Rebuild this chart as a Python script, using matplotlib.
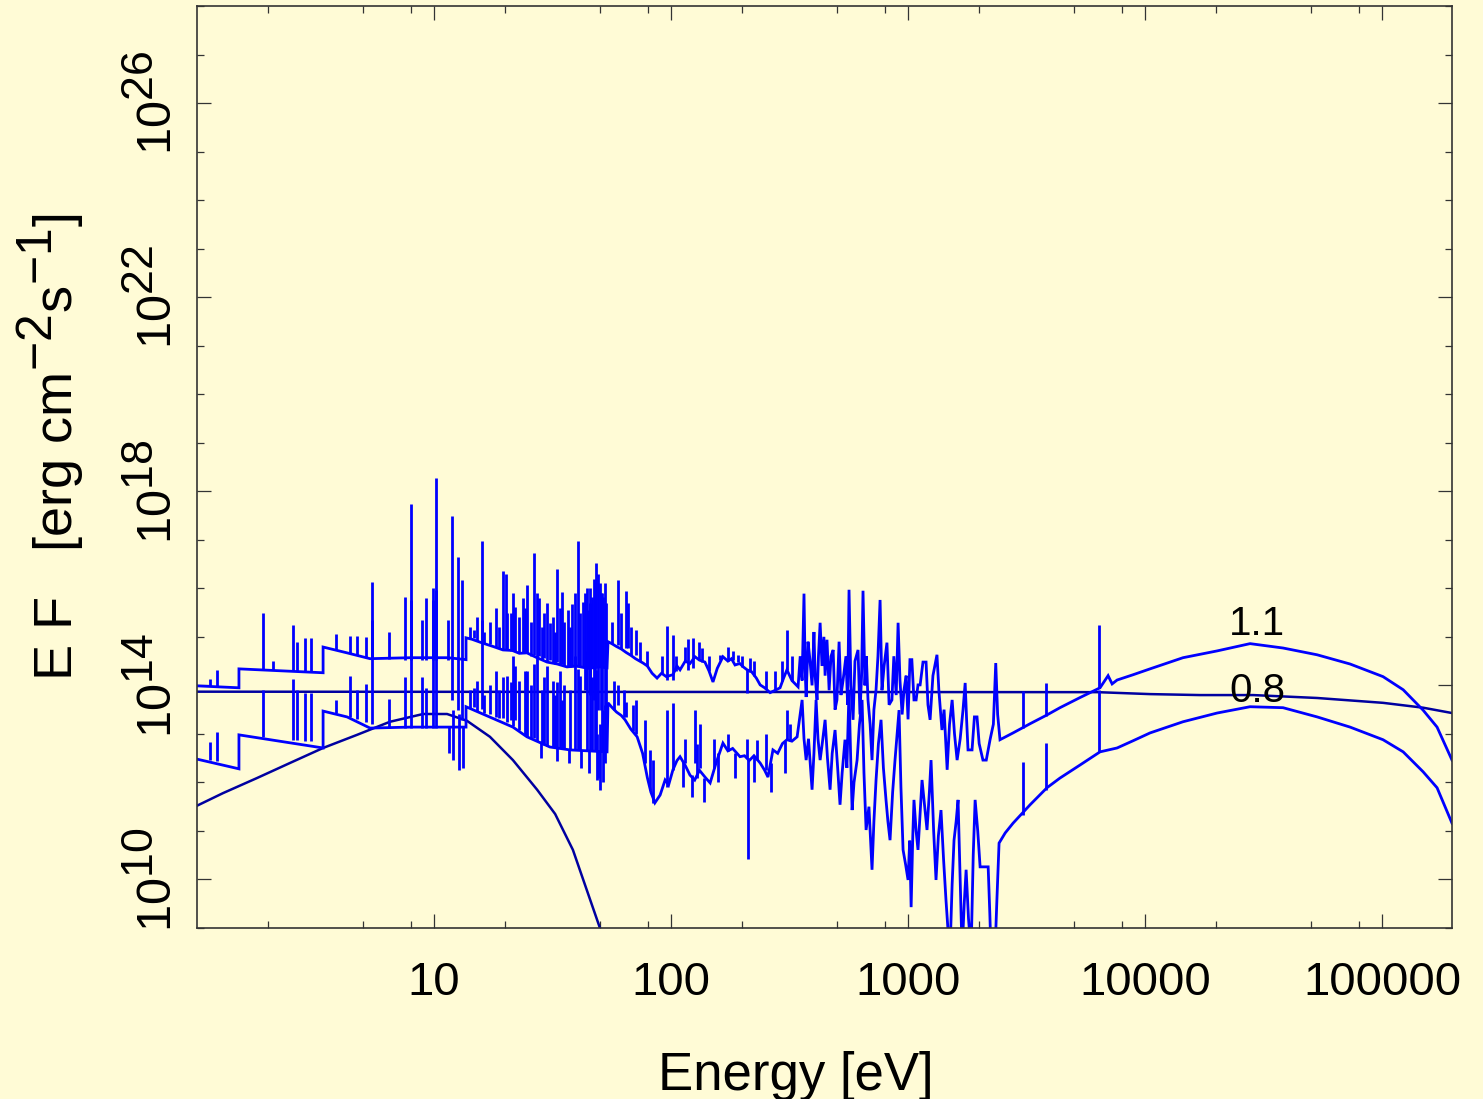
import numpy as np
import matplotlib
matplotlib.use('Agg')
import matplotlib.pyplot as plt
from matplotlib.ticker import FixedLocator, FixedFormatter, NullFormatter
import matplotlib._mathtext as _mt
_mt.SHRINK_FACTOR = 0.92

# ---------------- data (log10 energy [eV], log10 E*F) ----------------
# upper spectrum (label 1.1)
up_logE = [0.000, 0.177, 0.177, 0.532, 0.532, 0.633, 0.730, 0.899, 1.059, 1.135, 1.135, 1.16, 1.20, 1.25, 1.291, 1.33, 1.36,
           1.392, 1.43, 1.477, 1.52, 1.561, 1.60, 1.65, 1.70, 1.730,
           1.734, 1.75, 1.77, 1.79, 1.81, 1.83, 1.85, 1.882, 1.90, 1.92, 1.941, 1.96, 1.98, 2.008, 2.025, 2.038, 2.06,
           2.08, 2.101, 2.12, 2.143, 2.16, 2.177, 2.195, 2.219, 2.24, 2.255, 2.270, 2.29, 2.305, 2.321, 2.34, 2.36,
           2.376, 2.395, 2.418, 2.44, 2.460, 2.475, 2.489, 2.51,
           2.536, 2.545, 2.553, 2.561, 2.566, 2.570, 2.578, 2.586, 2.595, 2.603, 2.608, 2.616, 2.622, 2.629, 2.637,
           2.645, 2.650, 2.658, 2.667, 2.675, 2.684, 2.692, 2.700, 2.709, 2.717, 2.726, 2.738, 2.745, 2.751, 2.759,
           2.768, 2.776, 2.789, 2.797, 2.804, 2.810, 2.818, 2.824, 2.831, 2.840, 2.848, 2.856, 2.865, 2.873, 2.882,
           2.890, 2.899, 2.911, 2.920, 2.932, 2.940, 2.950, 2.958, 2.966, 2.975, 2.983, 2.992, 3.000, 3.008, 3.016,
           3.025, 3.034, 3.042, 3.051, 3.063, 3.076, 3.084, 3.093, 3.105, 3.122, 3.130, 3.143, 3.152, 3.165, 3.175,
           3.186, 3.196, 3.207, 3.220, 3.232, 3.241, 3.247, 3.253, 3.270, 3.280, 3.291, 3.300, 3.316, 3.330, 3.346,
           3.360, 3.370, 3.378, 3.388,
           3.443, 3.515, 3.586, 3.641, 3.726, 3.810, 3.844, 3.861, 3.882, 3.950, 4.021, 4.160, 4.304, 4.443, 4.582,
           4.726, 4.865, 5.004, 5.089, 5.173, 5.232, 5.295]
up_logF = [13.99, 13.95, 14.34, 14.26, 14.79, 14.67, 14.55, 14.57, 14.57, 14.53, 14.98, 14.95, 14.88, 14.80, 14.73, 14.72, 14.66,
           14.67, 14.58, 14.48, 14.44, 14.38, 14.40, 14.35, 14.38, 14.36,
           14.90, 14.86, 14.80, 14.75, 14.68, 14.62, 14.55, 14.46, 14.40, 14.25, 14.15, 14.25, 14.18, 14.22, 14.40, 14.32, 14.50,
           14.45, 14.59, 14.52, 14.48, 14.30, 14.07, 14.35, 14.59, 14.50, 14.55, 14.42, 14.45, 14.38, 14.32, 14.28, 14.15,
           14.01, 13.95, 13.85, 13.90, 13.95, 14.15, 14.32, 14.10,
           13.97, 14.60, 14.10, 15.89, 14.30, 13.76, 14.90, 14.53, 14.00, 15.10, 14.20, 13.70, 14.60, 15.29, 14.40,
           15.00, 14.20, 14.94, 13.90, 14.60, 14.73, 13.50, 13.70, 14.90, 13.80, 14.11, 14.60, 13.60, 15.97, 14.00,
           13.29, 14.50, 14.73, 13.40, 14.20, 15.95, 14.00, 14.60, 13.70, 13.20, 12.46, 13.50, 13.91, 14.60, 15.76,
           13.90, 14.40, 14.88, 13.60, 13.70, 14.60, 13.80, 15.29, 14.10, 13.40, 13.91, 14.20, 13.30, 14.53, 14.53,
           13.70, 13.70, 14.01, 14.01, 14.48, 14.48, 13.60, 13.29, 14.20, 14.63, 13.90, 13.08, 13.50, 12.26, 13.20,
           13.70, 13.00, 12.46, 12.90, 13.50, 14.05, 13.30, 12.67, 12.67, 13.35, 13.35, 12.80, 12.46, 12.46, 12.88,
           13.20, 14.46, 13.40, 12.88,
           13.02, 13.21, 13.39, 13.54, 13.75, 13.95, 14.20, 14.03, 14.11, 14.22, 14.34, 14.57, 14.71, 14.86, 14.77,
           14.63, 14.44, 14.18, 13.91, 13.49, 13.14, 12.46]

# emission / absorption features of the upper spectrum: energy, low end, high end
up_line_logE = [0.055, 0.084, 0.278, 0.321, 0.405, 0.422, 0.456, 0.481, 0.586, 0.646, 0.675, 0.713, 0.738, 0.810,
                0.878, 0.903, 0.949, 0.966, 0.996, 1.008, 1.059, 1.076, 1.101, 1.118, 1.169, 1.203, 1.291, 1.304,
                1.325, 1.342, 1.376, 1.392, 1.422, 1.443, 1.464, 1.489, 1.519, 1.540, 1.565, 1.582, 1.608, 1.629,
                1.637, 1.650, 1.658, 1.667, 1.675, 1.684, 1.692, 1.700, 1.705, 1.713, 1.722, 1.726,
                1.776, 1.810, 1.819, 1.852, 1.983, 2.008, 2.072, 2.093, 2.131, 2.207, 2.283, 2.321, 2.333, 2.489,
                3.485, 3.582, 3.806,
                1.15, 1.18, 1.21, 1.235, 1.26, 1.275, 1.31, 1.335, 1.36, 1.385, 1.41, 1.435, 1.455, 1.475, 1.50,
                1.51, 1.53, 1.55, 1.575, 1.595, 1.615, 1.645, 1.66, 1.68, 1.71,
                1.75, 1.79, 1.83, 1.87, 1.90, 1.96, 2.02, 2.06, 2.12, 2.16, 2.24, 2.26, 2.30, 2.35, 2.40, 2.44, 2.47, 2.51]
up_line_lo = [13.99, 13.97, 14.34, 14.32, 14.30, 14.30, 14.28, 14.28, 14.73, 14.67, 14.63, 14.59, 14.57, 14.55,
              14.53, 14.53, 14.53, 14.53, 14.53, 14.53, 14.53, 13.70, 13.50, 13.29, 14.98, 14.94, 14.73, 14.73,
              14.71, 14.71, 14.69, 14.67, 14.63, 14.61, 14.57, 14.53, 14.48, 14.44, 14.40, 14.38, 14.38, 14.38,
              13.90, 14.38, 13.80, 14.38, 13.70, 14.38, 13.50, 14.38, 13.50, 14.38, 13.50, 13.30,
              14.84, 14.78, 14.76, 14.63, 14.11, 14.11, 14.32, 14.36, 14.48, 14.53, 14.48, 13.85, 14.28, 14.32,
              13.12, 13.37, 13.95,
              14.96, 14.92, 14.88, 14.85, 14.80, 14.78, 14.73, 14.72, 14.66, 14.67, 14.60, 14.58, 14.52, 14.48, 14.46,
              14.45, 14.43, 14.40, 14.38, 14.39, 14.40, 14.36, 14.35, 14.37, 14.38,
              14.86, 14.75, 14.62, 14.50, 14.40, 14.25, 14.30, 14.50, 14.52, 14.30, 14.50, 14.52, 14.38, 14.20, 13.92, 13.90, 14.10, 14.10]
up_line_hi = [14.13, 14.32, 15.49, 14.51, 15.25, 14.90, 14.98, 14.98, 15.06, 15.02, 15.02, 15.00, 16.13, 15.10,
              15.82, 17.74, 15.35, 15.80, 16.01, 18.28, 15.35, 17.49, 16.65, 16.18, 15.14, 16.98, 16.36, 16.30,
              15.49, 15.62, 15.80, 16.07, 16.73, 15.80, 15.49, 15.29, 16.40, 15.93, 15.56, 15.68, 16.98, 15.72,
              15.90, 15.56, 16.00, 15.82, 16.20, 16.52, 16.30, 16.11, 15.90, 15.82, 16.10, 15.70,
              16.17, 15.95, 15.70, 15.14, 15.22, 15.03, 14.96, 14.98, 14.78, 14.63, 14.63, 14.32, 14.57, 15.14,
              13.89, 14.05, 15.25,
              15.2, 15.4, 15.1, 15.3, 15.6, 15.2, 15.5, 15.9, 15.4, 15.6, 15.3, 15.9, 15.2, 15.7, 15.4,
              15.1, 15.6, 15.3, 15.2, 15.9, 15.5, 16.0, 15.7, 16.1, 15.9,
              15.3, 15.5, 15.2, 14.9, 14.7, 14.6, 14.6, 14.8, 14.9, 14.6, 14.8, 14.7, 14.6, 14.5, 14.3, 14.3, 14.5, 14.6]

# lower spectrum (label 0.8)
lo_logE = [0.000, 0.177, 0.177, 0.532, 0.532, 0.633, 0.730, 0.899, 1.059, 1.135, 1.135, 1.333, 1.392, 1.489, 1.574, 1.730,
           1.734, 1.75, 1.77, 1.79, 1.806, 1.83, 1.857, 1.88, 1.90, 1.915, 1.932, 1.954, 1.975, 1.99, 2.008, 2.025,
           2.038, 2.06, 2.08, 2.10, 2.12, 2.145, 2.165, 2.19, 2.219, 2.24, 2.26, 2.291, 2.31, 2.33, 2.35, 2.376,
           2.395, 2.409, 2.430, 2.45, 2.47, 2.489, 2.51, 2.532,
           2.542, 2.553, 2.561, 2.570, 2.580, 2.590, 2.595, 2.603, 2.612, 2.620, 2.629, 2.638, 2.650, 2.660, 2.671,
           2.680, 2.692, 2.703, 2.713, 2.722, 2.734, 2.742, 2.751, 2.758, 2.764, 2.772, 2.785, 2.795, 2.806, 2.814,
           2.823, 2.835, 2.848, 2.856, 2.865, 2.875, 2.886, 2.896, 2.907, 2.915, 2.924, 2.935, 2.945, 2.954, 2.962,
           2.970, 2.979, 2.990, 3.000, 3.007, 3.013, 3.020, 3.025, 3.034, 3.042, 3.050, 3.059, 3.070, 3.080, 3.090,
           3.097, 3.108, 3.118, 3.128, 3.139, 3.150, 3.160, 3.168, 3.177, 3.186, 3.194, 3.203, 3.211, 3.220, 3.228,
           3.237, 3.245, 3.255, 3.266, 3.275, 3.283, 3.294, 3.304, 3.338, 3.345, 3.350, 3.367, 3.375, 3.384,
           3.410, 3.443, 3.515, 3.586, 3.641, 3.726, 3.810, 3.882, 3.950, 4.021, 4.160, 4.304, 4.443, 4.582, 4.726,
           4.865, 5.004, 5.089, 5.173, 5.232, 5.295]
lo_logF = [12.48, 12.28, 12.98, 12.71, 13.47, 13.35, 13.12, 13.14, 13.14, 13.14, 13.56, 13.14, 12.94, 12.73, 12.67, 12.63,
           13.64, 13.55, 13.45, 13.38, 13.29, 13.10, 12.94, 12.60, 12.10, 11.80, 11.58, 11.74, 12.05, 11.95, 12.26, 12.45,
           12.53, 12.35, 12.15, 12.05, 12.25, 12.10, 11.99, 12.40, 12.81, 12.65, 12.70, 12.53, 12.55, 12.45, 12.55, 12.40,
           12.25, 12.11, 12.67, 12.60, 12.80, 12.88, 12.85, 12.94,
           13.30, 13.70, 12.90, 12.46, 12.90, 12.20, 11.85, 12.60, 13.70, 12.90, 12.46, 12.80, 13.29, 12.50, 11.85,
           12.60, 13.08, 12.30, 11.54, 12.20, 12.88, 12.30, 13.91, 12.50, 11.43, 12.00, 12.46, 13.20, 13.70, 12.20,
           11.02, 11.50, 10.20, 11.20, 12.05, 12.80, 13.29, 12.30, 11.64, 11.20, 10.81, 11.80, 12.46, 13.00, 13.49,
           11.90, 10.61, 10.30, 9.99, 10.80, 9.43, 10.90, 11.64, 11.00, 10.61, 11.30, 12.05, 11.50, 11.02, 11.80,
           12.46, 11.00, 9.99, 10.90, 11.43, 10.40, 9.58, 9.00, 8.50, 9.90, 10.81, 11.20, 11.64, 10.00, 8.50,
           9.50, 10.20, 9.20, 8.50, 10.50, 11.64, 11.00, 10.26, 10.26, 9.30, 8.50, 8.50, 9.60, 10.75,
           10.96, 11.16, 11.54, 11.89, 12.09, 12.36, 12.63, 12.71, 12.86, 13.02, 13.25, 13.43, 13.56, 13.54, 13.35,
           13.14, 12.88, 12.63, 12.22, 11.89, 11.16]

lo_line_logE = [0.055, 0.084, 0.278, 0.405, 0.422, 0.456, 0.481, 0.586, 0.646, 0.675, 0.713, 0.738, 0.810, 0.878,
                0.903, 0.949, 0.966, 0.996, 1.008, 1.063, 1.080, 1.105, 1.122, 1.169, 1.203, 1.291, 1.325, 1.342,
                1.392, 1.422, 1.464, 1.519, 1.540, 1.608, 1.667, 1.684, 1.688, 1.700, 1.713, 1.722,
                1.776, 1.810, 1.852, 1.890, 1.911, 1.924, 1.983, 2.008, 2.101, 2.122, 2.325, 2.363, 2.489,
                3.485, 3.582, 3.806,
                1.15, 1.18, 1.21, 1.235, 1.26, 1.275, 1.31, 1.335, 1.36, 1.385, 1.41, 1.435, 1.455, 1.475, 1.50,
                1.51, 1.53, 1.55, 1.575, 1.595, 1.615, 1.645, 1.66, 1.68, 1.71,
                1.45, 1.52, 1.57, 1.62, 1.655, 1.69,
                2.05, 2.09, 2.14, 2.20, 2.27, 2.35, 2.42, 2.48, 2.06, 2.11, 2.18, 2.24, 2.32, 2.40, 2.50, 1.76, 1.80, 1.84]
lo_line_lo = [12.46, 12.44, 12.94, 12.88, 12.88, 12.86, 12.86, 13.43, 13.35, 13.31, 13.24, 13.20, 13.12, 13.12,
              13.12, 13.12, 13.12, 13.12, 13.12, 12.61, 12.46, 12.26, 12.30, 13.56, 13.52, 13.33, 13.29, 13.29,
              12.94, 12.92, 12.78, 12.71, 12.69, 12.67, 12.67, 12.67, 12.05, 11.85, 12.00, 12.39,
              13.60, 13.35, 13.00, 12.40, 11.85, 11.58, 11.90, 12.26, 12.40, 12.30, 10.42, 12.46, 12.88,
              11.33, 11.85, 12.63,
              13.53, 13.48, 13.44, 13.40, 13.35, 13.32, 13.24, 13.16, 13.08, 12.98, 12.92, 12.85, 12.80, 12.76, 12.72,
              12.71, 12.70, 12.69, 12.67, 12.66, 12.66, 12.65, 12.65, 12.64, 12.63,
              12.50, 12.45, 12.40, 12.30, 12.20, 12.10,
              11.90, 11.70, 11.60, 12.00, 12.10, 12.00, 11.80, 12.20, 12.40, 12.10, 12.30, 12.65, 12.50, 12.25, 12.85, 13.50, 13.35, 13.05]
lo_line_hi = [12.84, 13.04, 13.91, 14.13, 13.91, 13.85, 13.85, 13.70, 14.20, 13.91, 14.03, 15.35, 13.72, 14.17,
              15.76, 14.17, 13.95, 15.76, 15.97, 13.14, 13.50, 13.40, 13.14, 13.95, 15.35, 14.17, 14.07, 14.40,
              14.30, 14.44, 14.17, 14.07, 13.70, 14.34, 14.17, 14.32, 13.00, 13.20, 13.50, 13.60,
              14.00, 13.66, 13.70, 13.29, 12.67, 12.46, 13.49, 13.64, 13.49, 13.20, 12.50, 12.88, 13.49,
              12.42, 12.82, 13.91,
              13.9, 14.1, 13.8, 14.0, 14.3, 13.9, 14.2, 14.6, 14.1, 14.3, 14.0, 14.6, 13.9, 14.4, 14.1,
              13.8, 14.3, 14.0, 13.9, 14.6, 14.2, 14.7, 14.4, 14.8, 14.6,
              12.85, 12.72, 12.69, 12.66, 12.65, 12.64,
              12.45, 12.15, 12.10, 12.60, 12.60, 12.55, 12.40, 12.85, 12.9, 12.8, 12.9, 13.0, 12.9, 13.0, 13.2, 14.1, 13.9, 13.6]

# smooth thermal component
bb_logE = [0.000, 0.110, 0.253, 0.392, 0.532, 0.675, 0.814, 0.954, 1.055, 1.139, 1.236, 1.333, 1.435, 1.511, 1.586, 1.700, 1.750]
bb_logF = [11.52, 11.78, 12.09, 12.40, 12.71, 12.98, 13.25, 13.41, 13.41, 13.27, 12.94, 12.46, 11.85, 11.35, 10.61, 9.00, 8.50]

# incident continuum (nearly flat)
flat_logE = [0.000, 3.800, 4.021, 4.232, 4.456, 4.726, 5.004, 5.173, 5.295]
flat_logF = [13.87, 13.86, 13.82, 13.80, 13.80, 13.74, 13.64, 13.54, 13.43]

labels = ['1.1', '0.8']
label_logE = [4.473, 4.473]
label_logF = [15.04, 13.66]

xtick_vals = [10, 100, 1000, 10000, 100000]
xtick_text = ['10', '100', '1000', '10000', '100000']
ytick_exp = [10, 14, 18, 22, 26]

# ---------------- style ----------------
BG = '#fffbd6'
BLUE = '#0000ff'
NAVY = '#0000a0'
plt.rcParams['font.family'] = ['Liberation Sans', 'DejaVu Sans']

fig = plt.figure(figsize=(14.83, 10.99), dpi=100, facecolor=BG)
ax = fig.add_axes([197 / 1483, 1 - 928 / 1099, (1452 - 197) / 1483, (928 - 6) / 1099])
ax.set_facecolor(BG)
ax.set_xscale('log')
ax.set_yscale('log')

p = lambda a: 10.0 ** np.asarray(a)
lw = 2.0
ax.plot(p(flat_logE), p(flat_logF), color=NAVY, lw=1.8)
ax.plot(p(bb_logE), p(bb_logF), color=NAVY, lw=1.8)
ax.plot(p(up_logE), p(up_logF), color=BLUE, lw=lw, solid_joinstyle='miter')
ax.vlines(p(up_line_logE), p(up_line_lo), p(up_line_hi), color=BLUE, lw=lw)
ax.plot(p(lo_logE), p(lo_logF), color=BLUE, lw=lw, solid_joinstyle='miter')
ax.vlines(p(lo_line_logE), p(lo_line_lo), p(lo_line_hi), color=BLUE, lw=lw)

for t, le, lf in zip(labels, label_logE, label_logF):
    ax.text(10 ** le, 10 ** lf, t, ha='center', va='baseline', fontsize=29, color='black')

ax.set_xlim(1.0, 10 ** 5.295)
ax.set_ylim(1e9, 1e28)

# ticks
ax.xaxis.set_major_locator(FixedLocator(xtick_vals))
ax.xaxis.set_major_formatter(FixedFormatter(xtick_text))
ax.xaxis.set_minor_locator(FixedLocator([m * 10 ** k for k in range(0, 6) for m in (2, 5, 8) if m * 10 ** k < 10 ** 5.295]))
ax.xaxis.set_minor_formatter(NullFormatter())
ax.yaxis.set_major_locator(FixedLocator([10.0 ** e for e in ytick_exp]))
ax.yaxis.set_major_formatter(FixedFormatter([r'$\mathregular{10^{%d}}$' % e for e in ytick_exp]))
ax.yaxis.set_minor_locator(FixedLocator([10.0 ** e for e in range(9, 29) if e not in ytick_exp]))
ax.yaxis.set_minor_formatter(NullFormatter())

ax.tick_params(which='both', direction='in', top=True, right=True, color='#333333', width=0.9)
ax.tick_params(which='major', length=10)
ax.tick_params(which='minor', length=5)
ax.tick_params(axis='x', which='major', labelsize=34, pad=24)
ax.tick_params(axis='y', which='major', labelsize=35, pad=11, labelrotation=90)
for lab in ax.get_yticklabels():
    lab.set_va('center')

for s in ax.spines.values():
    s.set_color('#333333')
    s.set_linewidth(1.2)

fig.text(796 / 1483, 1 - 1090 / 1099, 'Energy [eV]', ha='center', va='baseline', fontsize=38)
fig.text(72 / 1483, 1 - 447 / 1099, r'E F   [erg cm$\mathregular{^{-2}}$s$\mathregular{^{-1}}$]',
         rotation=90, rotation_mode='anchor', ha='center', va='baseline', fontsize=39)

fig.savefig('out.png', dpi=100, facecolor=BG)
